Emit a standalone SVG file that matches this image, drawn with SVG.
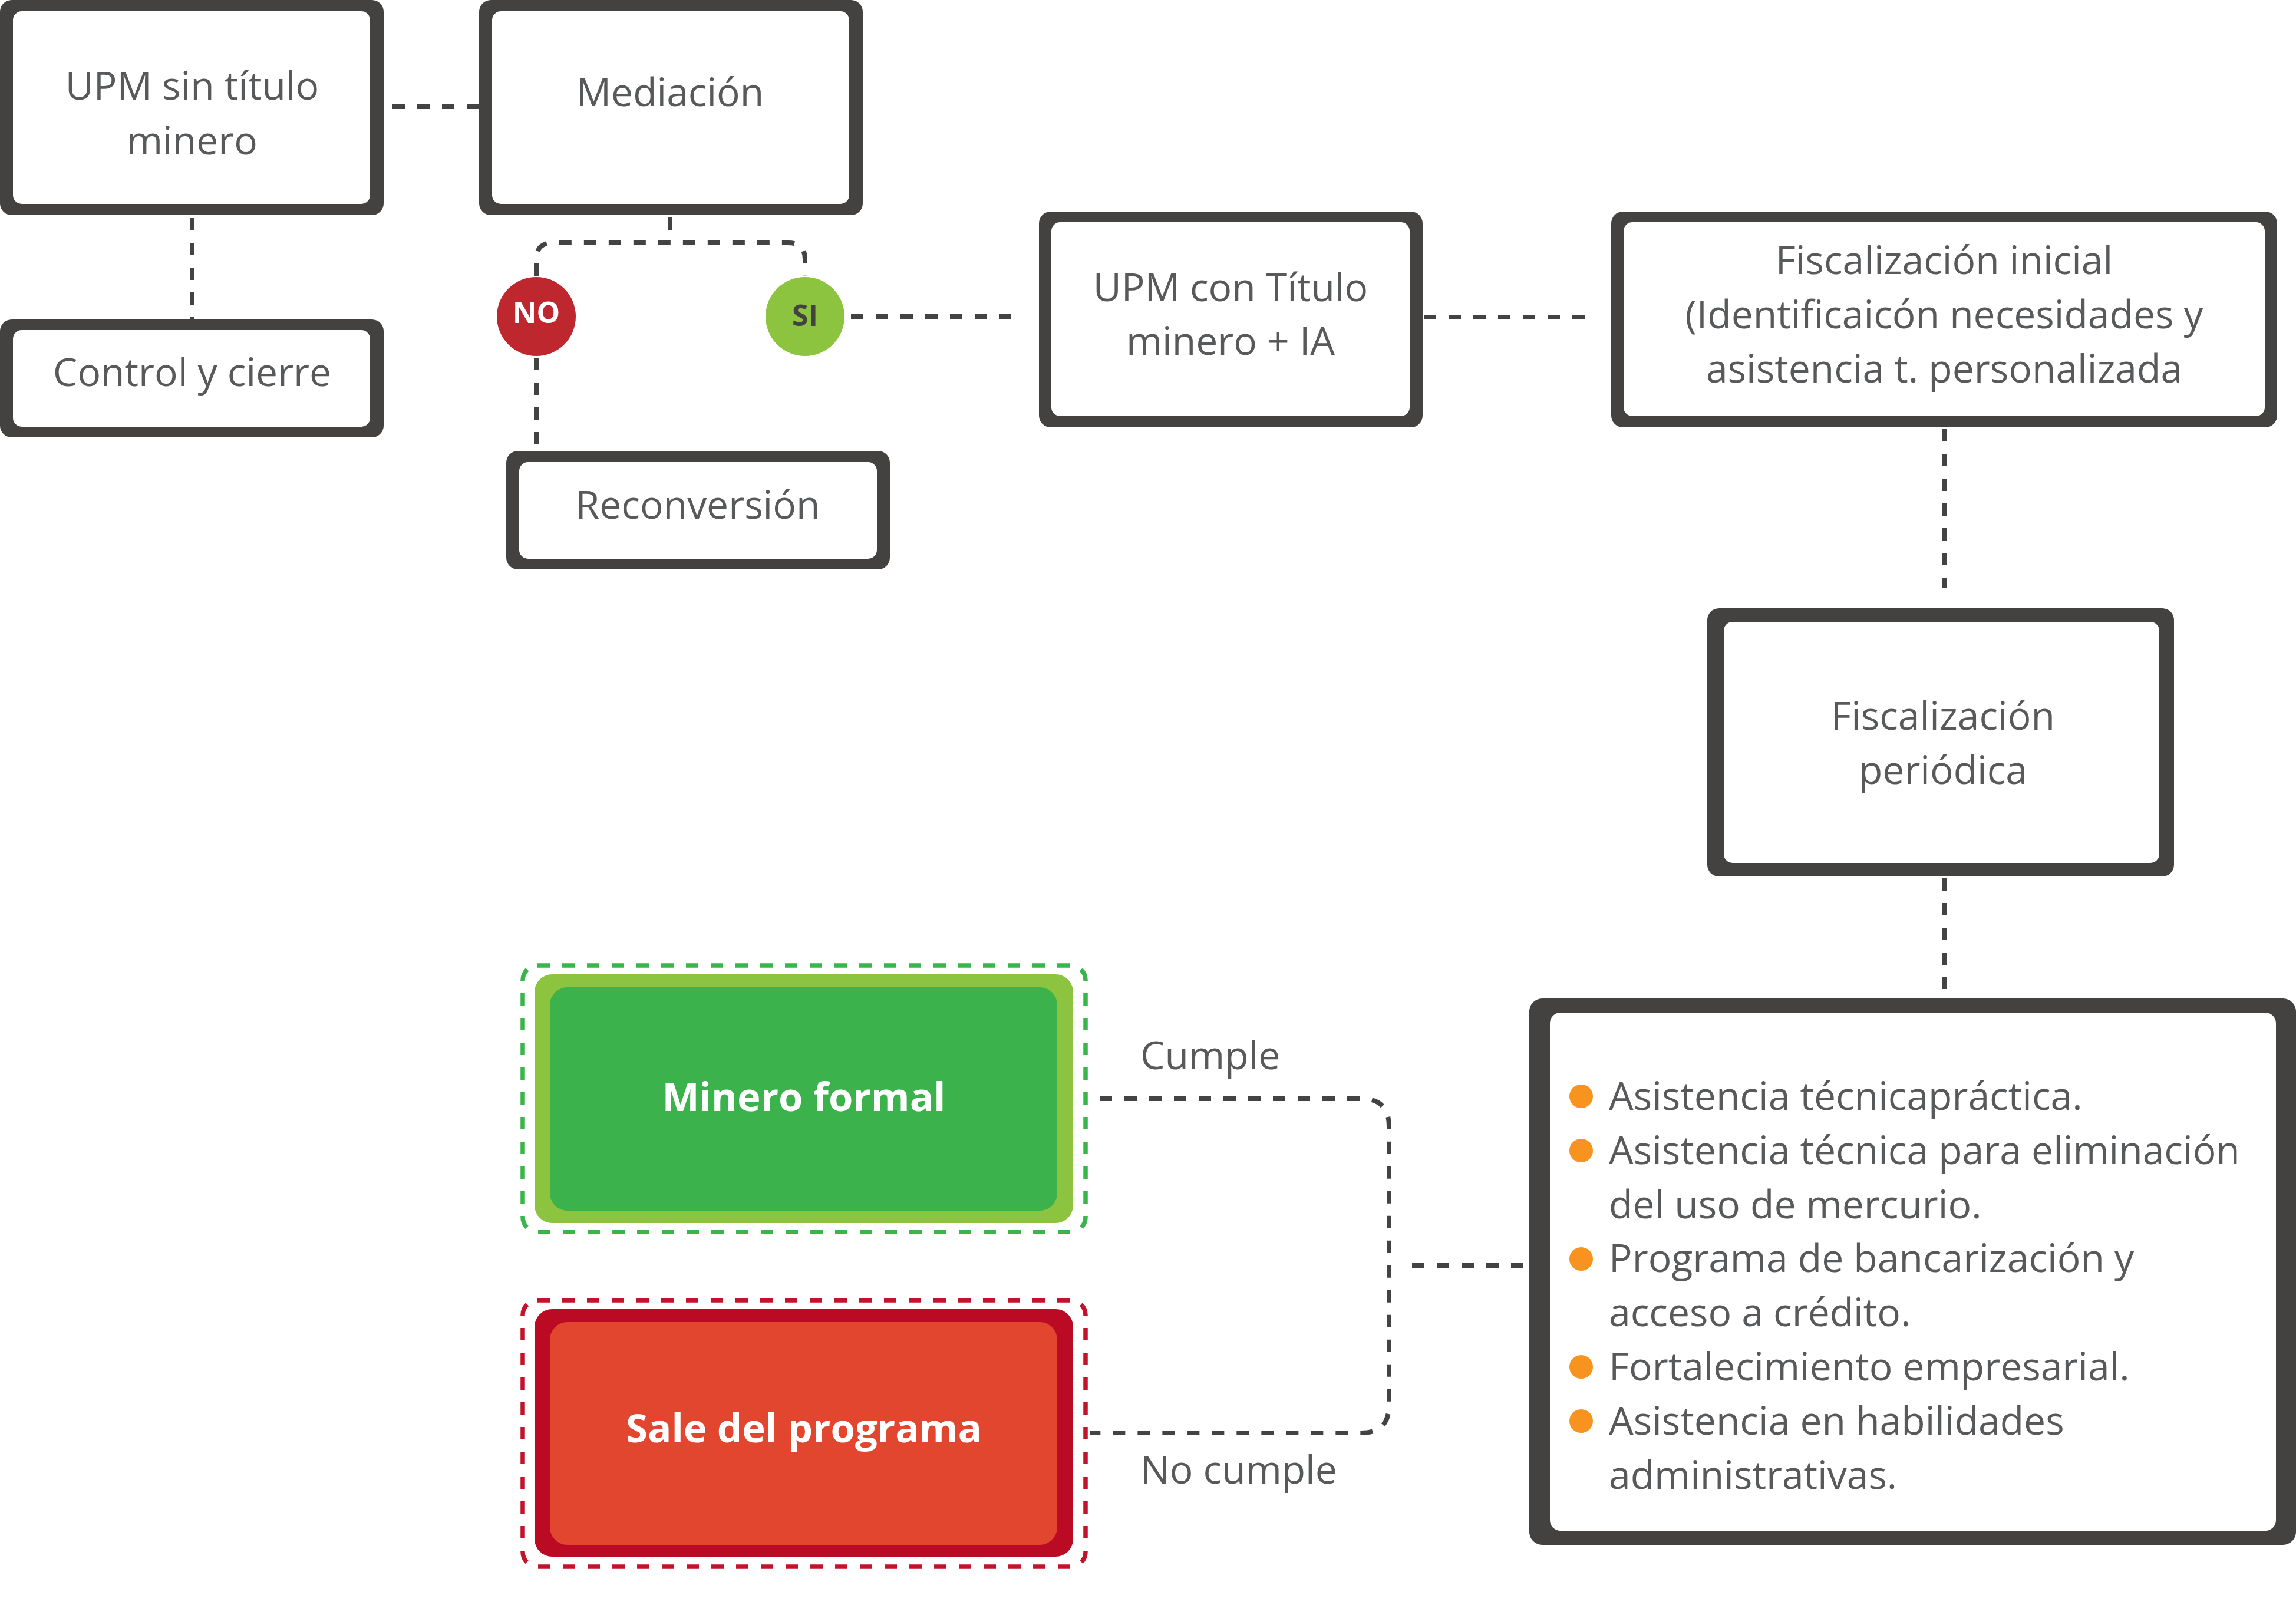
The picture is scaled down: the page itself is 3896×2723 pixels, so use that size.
<svg xmlns="http://www.w3.org/2000/svg" width="3896" height="2723" viewBox="0 0 3896 2723">
<style>
.out{fill:#434240}
.in{fill:#ffffff}
.t{font-family:"Open Sans","Liberation Sans",sans-serif;font-size:66px;fill:#58595b;text-anchor:middle}
.tl{font-family:"Open Sans","Liberation Sans",sans-serif;font-size:66px;fill:#58595b}
.b{font-family:"Open Sans","Liberation Sans",sans-serif;font-weight:bold;fill:#ffffff;text-anchor:middle}
.c{fill:none;stroke:#434343;stroke-width:8;stroke-dasharray:21 21}
.bul{fill:#f7931e}
</style>
<rect width="3896" height="2723" fill="#ffffff"/>
<g id="connectors">
<path class="c" d="M666 181 H812"/>
<path class="c" d="M326 370 V545"/>
<path class="c" d="M1137 369 V410"/>
<path class="c" d="M910 468 V440 Q910 412 938 412 H1338 Q1366 412 1366 440 V468"/>
<path class="c" d="M910 607 V765"/>
<path class="c" d="M1444 537 H1716"/>
<path class="c" d="M2416 538 H2690"/>
<path class="c" d="M3299 728 V998"/>
<path class="c" d="M3300 1490 V1678"/>
<path class="c" d="M1866 1864 H2310 Q2357 1864 2357 1911 V2384 Q2357 2431 2310 2431 H1850"/>
<path class="c" d="M2396 2147 H2586"/>
</g>
<g id="upm-sin-titulo">
<rect class="out" x="0" y="0" width="651" height="365" rx="20"/>
<rect class="in" x="22" y="19" width="606" height="327" rx="15"/>
<text class="t" x="326" y="169">UPM sin título</text>
<text class="t" x="326" y="262">minero</text>
</g>
<g id="mediacion">
<rect class="out" x="813" y="0" width="651" height="365" rx="20"/>
<rect class="in" x="835" y="19" width="606" height="327" rx="15"/>
<text class="t" x="1137" y="180">Mediación</text>
</g>
<g id="control-cierre">
<rect class="out" x="0" y="542" width="651" height="200" rx="20"/>
<rect class="in" x="22" y="560" width="606" height="164" rx="15"/>
<text class="t" x="326" y="655">Control y cierre</text>
</g>
<g id="no">
<circle cx="910" cy="537" r="67" fill="#bf272f"/>
<text class="b" x="910" y="548" font-size="50">NO</text>
</g>
<g id="si">
<circle cx="1366" cy="537" r="67" fill="#8cc43f"/>
<text class="b" x="1366" y="553" font-size="50" style="fill:#434240">SI</text>
</g>
<g id="reconversion">
<rect class="out" x="859" y="765" width="651" height="201" rx="20"/>
<rect class="in" x="881" y="784" width="607" height="164" rx="15"/>
<text class="t" x="1184" y="880">Reconversión</text>
</g>
<g id="upm-con-titulo">
<rect class="out" x="1763" y="359" width="651" height="366" rx="20"/>
<rect class="in" x="1784" y="377" width="608" height="329" rx="15"/>
<text class="t" x="2088" y="511">UPM con Título</text>
<text class="t" x="2088" y="602">minero + IA</text>
</g>
<g id="fiscalizacion-inicial">
<rect class="out" x="2734" y="359" width="1130" height="366" rx="20"/>
<rect class="in" x="2755" y="377" width="1088" height="329" rx="15"/>
<text class="t" x="3299" y="465">Fiscalización inicial</text>
<text class="t" x="3299" y="557">(Identificaicón necesidades y</text>
<text class="t" x="3299" y="649">asistencia t. personalizada</text>
</g>
<g id="fiscalizacion-periodica">
<rect class="out" x="2897" y="1032" width="792" height="455" rx="20"/>
<rect class="in" x="2925" y="1055" width="739" height="409" rx="15"/>
<text class="t" x="3297" y="1238">Fiscalización</text>
<text class="t" x="3297" y="1330">periódica</text>
</g>
<g id="asistencia">
<rect class="out" x="2595" y="1694" width="1301" height="927" rx="22"/>
<rect class="in" x="2630" y="1718" width="1232" height="879" rx="18"/>
<circle class="bul" cx="2683" cy="1860" r="20"/>
<circle class="bul" cx="2683" cy="1952" r="20"/>
<circle class="bul" cx="2683" cy="2136" r="20"/>
<circle class="bul" cx="2683" cy="2319" r="20"/>
<circle class="bul" cx="2683" cy="2411" r="20"/>
<text class="tl" x="2730" y="1883">Asistencia técnicapráctica.</text>
<text class="tl" x="2730" y="1975">Asistencia técnica para eliminación</text>
<text class="tl" x="2730" y="2067">del uso de mercurio.</text>
<text class="tl" x="2730" y="2158">Programa de bancarización y</text>
<text class="tl" x="2730" y="2250">acceso a crédito.</text>
<text class="tl" x="2730" y="2342">Fortalecimiento empresarial.</text>
<text class="tl" x="2730" y="2434">Asistencia en habilidades</text>
<text class="tl" x="2730" y="2526">administrativas.</text>
</g>
<g id="minero-formal">
<rect x="887" y="1638" width="955" height="452" rx="25" fill="none" stroke="#3ab54a" stroke-width="7.5" stroke-dasharray="21 21"/>
<rect x="907" y="1653" width="914" height="422" rx="30" fill="#8cc43f"/>
<rect x="933" y="1675" width="861" height="379" rx="30" fill="#3bb24c"/>
<text class="b" x="1364" y="1885" font-size="67">Minero formal</text>
</g>
<g id="sale-programa">
<rect x="887" y="2206" width="955" height="452" rx="25" fill="none" stroke="#c1142c" stroke-width="7.5" stroke-dasharray="21 21"/>
<rect x="907" y="2221" width="914" height="420" rx="30" fill="#bb0a24"/>
<rect x="933" y="2243" width="861" height="378" rx="30" fill="#e2462e"/>
<text class="b" x="1364" y="2447" font-size="67">Sale del programa</text>
</g>
<g id="labels">
<text class="tl" x="1935" y="1814">Cumple</text>
<text class="tl" x="1935" y="2517">No cumple</text>
</g>
</svg>
